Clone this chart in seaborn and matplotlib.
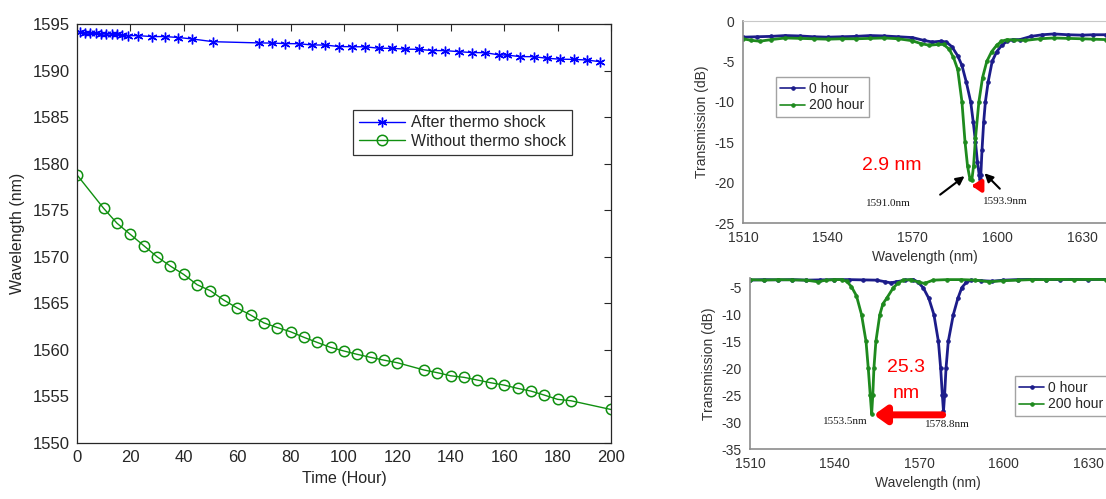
import matplotlib
matplotlib.use("Agg")
import matplotlib.pyplot as plt
import seaborn as sns

# ---- left panel: peak wavelength vs time ----
hours_after = [1, 3, 5, 7, 9, 11, 13, 15, 17, 19, 23, 28, 33, 38, 43, 51,
               68, 73, 78, 83, 88, 93, 98, 103, 108, 113, 118, 123, 128, 133,
               138, 143, 148, 153, 158, 161, 166, 171, 176, 181, 186, 191, 196]
wl_after = [1594.1, 1594.05, 1594.0, 1594.0, 1593.95, 1593.95, 1593.9, 1593.9, 1593.8, 1593.75,
            1593.75, 1593.65, 1593.65, 1593.55, 1593.4, 1593.1,
            1592.97, 1592.95, 1592.9, 1592.88, 1592.75, 1592.74, 1592.58, 1592.56, 1592.55,
            1592.4, 1592.39, 1592.3, 1592.28, 1592.15, 1592.14, 1592.03, 1591.93, 1591.92,
            1591.68, 1591.66, 1591.5, 1591.49, 1591.32, 1591.22, 1591.2, 1591.13, 1590.95]

hours_without = [0, 10, 15, 20, 25, 30, 35, 40, 45, 50, 55, 60, 65, 70, 75, 80, 85, 90,
                 95, 100, 105, 110, 115, 120, 130, 135, 140, 145, 150, 155, 160, 165,
                 170, 175, 180, 185, 200]
wl_without = [1578.8, 1575.2, 1573.6, 1572.4, 1571.2, 1570.0, 1569.0, 1568.1, 1567.0,
              1566.35, 1565.35, 1564.5, 1563.75, 1562.9, 1562.4, 1561.95, 1561.35, 1560.8,
              1560.27, 1559.88, 1559.52, 1559.2, 1558.9, 1558.62, 1557.84, 1557.55, 1557.22,
              1557.05, 1556.76, 1556.47, 1556.22, 1555.87, 1555.58, 1555.15, 1554.69,
              1554.54, 1553.6]

# ---- top right spectra ----
top_wl_0h = [1510, 1515, 1520, 1525, 1530, 1535, 1540, 1545, 1550, 1555, 1560, 1565, 1570,
             1574, 1577, 1580, 1582, 1584, 1586, 1587.5, 1589, 1590.6, 1591.5, 1592.3, 1593,
             1593.6, 1593.9, 1594.2, 1594.6, 1595.2, 1595.8, 1596.8, 1598.2, 1599.8, 1601.6,
             1603.5, 1605.5, 1608, 1612, 1616, 1620, 1625, 1630, 1634, 1638.5]
top_tr_0h = [-2.0, -1.95, -1.9, -1.8, -1.85, -1.95, -2.0, -1.95, -1.9, -1.8, -1.85, -1.95, -2.05,
             -2.4, -2.6, -2.5, -2.6, -3.2, -4.3, -5.5, -7.5, -10.0, -12.5, -15.0, -17.5,
             -19.0, -19.5, -19.0, -16.0, -12.5, -10.0, -7.5, -5.0, -3.8, -3.0,
             -2.5, -2.3, -2.3, -1.9, -1.7, -1.6, -1.7, -1.75, -1.7, -1.7]
top_wl_200h = [1510, 1513, 1516, 1520, 1525, 1530, 1535, 1540, 1545, 1550, 1555, 1560, 1565,
               1570, 1573, 1576, 1579, 1581, 1583, 1584.5, 1586, 1587.5, 1588.6, 1589.5, 1590.3,
               1591.0, 1591.6, 1592.3, 1593.5, 1594.8, 1596.3, 1598, 1599.8, 1601.5, 1603.5,
               1606, 1610, 1615, 1620, 1625, 1630, 1634, 1638.5]
top_tr_200h = [-2.2, -2.4, -2.5, -2.3, -2.1, -2.15, -2.2, -2.25, -2.2, -2.2, -2.15, -2.1, -2.2,
               -2.45, -2.8, -3.0, -2.9, -2.9, -3.5, -4.5, -6.0, -10.0, -15.0, -18.0, -19.5,
               -19.7, -18.0, -14.5, -10.0, -7.0, -5.0, -3.8, -3.0, -2.5, -2.3,
               -2.35, -2.4, -2.2, -2.1, -2.15, -2.2, -2.25, -2.3]

# ---- bottom right spectra ----
bot_wl_0h = [1510, 1515, 1520, 1525, 1530, 1535, 1540, 1545, 1550, 1555, 1558, 1560, 1562,
             1565, 1568, 1569.5, 1571.5, 1573.5, 1575.3, 1576.9, 1577.7, 1578.3, 1578.7,
             1579.1, 1579.6, 1580.4, 1582.2, 1583.8, 1585.2, 1586.8, 1588.5, 1592, 1596,
             1600, 1605, 1610, 1615, 1620, 1625, 1630, 1636.5]
bot_tr_0h = [-3.6, -3.5, -3.55, -3.5, -3.6, -3.55, -3.5, -3.5, -3.55, -3.6, -3.9, -4.1, -3.9,
             -3.6, -3.5, -3.9, -5.0, -7.0, -10.0, -15.0, -20.0, -25.0, -28.0,
             -25.0, -20.0, -15.0, -10.0, -7.0, -5.0, -4.0, -3.6, -3.7, -3.8,
             -3.6, -3.5, -3.45, -3.5, -3.5, -3.45, -3.5, -3.45]
bot_wl_200h = [1510, 1515, 1520, 1525, 1530, 1534, 1537, 1540, 1542.5, 1544.3, 1546, 1547.8,
               1549.6, 1551.2, 1552.0, 1552.7, 1553.2, 1553.6, 1554.0, 1554.7, 1556.1, 1557.2,
               1558.5, 1560.9, 1562.5, 1564.3, 1567, 1570, 1572, 1575, 1580, 1585, 1590,
               1595, 1600, 1605, 1610, 1615, 1620, 1625, 1630, 1636.5]
bot_tr_200h = [-3.5, -3.6, -3.5, -3.55, -3.6, -3.9, -3.6, -3.5, -3.5, -3.8, -4.8, -6.5,
               -10.0, -15.0, -20.0, -25.0, -28.5, -25.0, -20.0, -15.0, -10.0, -8.0,
               -7.0, -5.0, -4.2, -3.6, -3.5, -4.0, -4.2, -3.6, -3.5, -3.5, -3.6,
               -3.9, -3.7, -3.6, -3.5, -3.5, -3.45, -3.5, -3.45, -3.5]

sns.set_style("white")
plt.rcParams['font.family'] = ['Liberation Sans', 'DejaVu Sans']
plt.rcParams['axes.unicode_minus'] = False

fig = plt.figure(figsize=(11.06, 4.99), dpi=100)

# ================= left panel (MATLAB look) =================
ax = fig.add_axes([0.0696, 0.1122, 0.4828, 0.8397])
sns.lineplot(x=hours_after, y=wl_after, ax=ax, color="#0000ff", lw=1.0,
             marker=(6, 2, 0), markersize=7, markeredgewidth=1.0,
             markeredgecolor="#0000ff", label="After thermo shock")
sns.lineplot(x=hours_without, y=wl_without, ax=ax, color="#109010", lw=1.0,
             marker="o", markersize=7.5, markeredgewidth=1.1,
             markeredgecolor="#109010", label="Without thermo shock")
ax.lines[-1].set_markerfacecolor("none")
ax.set_xlim(0, 200)
ax.set_ylim(1550, 1595)
ax.set_xticks(range(0, 201, 20))
ax.set_yticks(range(1550, 1596, 5))
ax.tick_params(direction="in", top=True, right=True, length=5, width=0.8,
               labelsize=12, colors="#262626", pad=5)
for s in ax.spines.values():
    s.set_color("#262626")
    s.set_linewidth(0.9)
ax.set_xlabel("Time (Hour)", fontsize=11.5, color="#262626", labelpad=4)
ax.set_ylabel("Wavelength (nm)", fontsize=11.5, color="#262626", labelpad=6)
leg = ax.legend(loc="upper left", bbox_to_anchor=(0.502, 0.815), fontsize=11.5,
                frameon=True, fancybox=False, handlelength=2.9, borderpad=0.35,
                labelspacing=0.25, handletextpad=0.4)
leg.get_frame().set_edgecolor("#000000")
leg.get_frame().set_linewidth(0.9)


def excel_axes(a):
    a.spines["right"].set_visible(False)
    a.spines["top"].set_color("#c8c8c8")
    a.spines["top"].set_linewidth(0.8)
    for name in ["left", "bottom"]:
        a.spines[name].set_color("#8c8c8c")
        a.spines[name].set_linewidth(1.2)
    a.tick_params(direction="out", length=4, width=1, colors="#8c8c8c",
                  labelcolor="#333333", labelsize=10, pad=2)
    a.set_xticks([1510, 1540, 1570, 1600, 1630])


navy = "#1c1c8a"
green = "#1e8a1e"
serif = ["Liberation Serif", "DejaVu Serif"]

# ================= top right =================
ax1 = fig.add_axes([0.6718, 0.5531, 0.3282, 0.4048])
sns.lineplot(x=top_wl_0h, y=top_tr_0h, ax=ax1, color=navy, lw=2.0, marker="o",
             markersize=2.5, markeredgecolor=navy, label="0 hour")
sns.lineplot(x=top_wl_200h, y=top_tr_200h, ax=ax1, color=green, lw=2.0, marker="o",
             markersize=2.5, markeredgecolor=green, label="200 hour")
ax1.set_xlim(1510, 1638.5)
ax1.set_ylim(-25, 0)
ax1.set_yticks(range(-25, 1, 5))
excel_axes(ax1)
ax1.set_xlabel("Wavelength (nm)", fontsize=10, color="#333333", labelpad=3)
ax1.set_ylabel("Transmission (dB)", fontsize=10, color="#333333", labelpad=4)
lg1 = ax1.legend(loc="upper left", bbox_to_anchor=(0.072, 0.755), fontsize=10,
                 fancybox=False, handlelength=1.8, borderpad=0.3, labelspacing=0.2,
                 handletextpad=0.3)
lg1.get_frame().set_edgecolor("#8c8c8c")
for ln in lg1.get_lines():
    ln.set_linewidth(1.2)
ax1.text(1562.5, -17.9, "2.9 nm", color="red", fontsize=14, ha="center", va="center")
ax1.annotate("", xy=(1590.0, -20.4), xytext=(1594.3, -20.4),
             arrowprops=dict(arrowstyle="-|>,head_width=0.35,head_length=0.5",
                             color="red", lw=3))
ax1.annotate("", xy=(1589.2, -19.0), xytext=(1579.0, -21.7),
             arrowprops=dict(arrowstyle="-|>,head_width=0.25,head_length=0.5",
                             color="black", lw=1.5))
ax1.annotate("", xy=(1594.8, -18.6), xytext=(1601.6, -21.0),
             arrowprops=dict(arrowstyle="-|>,head_width=0.25,head_length=0.5",
                             color="black", lw=1.5))
ax1.text(1561.3, -22.6, "1591.0nm", fontsize=8, family=serif,
         ha="center", va="center", color="#1a1a1a")
ax1.text(1602.7, -22.4, "1593.9nm", fontsize=8, family=serif,
         ha="center", va="center", color="#1a1a1a")

# ================= bottom right =================
ax2 = fig.add_axes([0.6781, 0.1002, 0.3219, 0.3427])
sns.lineplot(x=bot_wl_0h, y=bot_tr_0h, ax=ax2, color=navy, lw=2.0, marker="o",
             markersize=2.5, markeredgecolor=navy, label="0 hour")
sns.lineplot(x=bot_wl_200h, y=bot_tr_200h, ax=ax2, color=green, lw=2.0, marker="o",
             markersize=2.5, markeredgecolor=green, label="200 hour")
ax2.set_xlim(1510, 1636.4)
ax2.set_ylim(-35, -3.2)
ax2.set_yticks(range(-35, -4, 5))
excel_axes(ax2)
ax2.spines["top"].set_visible(False)
ax2.set_xlabel("Wavelength (nm)", fontsize=10, color="#333333", labelpad=3)
ax2.set_ylabel("Transmission (dB)", fontsize=10, color="#333333", labelpad=4)
lg2 = ax2.legend(loc="upper left", bbox_to_anchor=(0.725, 0.465), fontsize=10,
                 fancybox=False, handlelength=1.8, borderpad=0.3, labelspacing=0.2,
                 handletextpad=0.3)
lg2.get_frame().set_edgecolor("#8c8c8c")
for ln in lg2.get_lines():
    ln.set_linewidth(1.2)
ax2.text(1565.4, -19.9, "25.3", color="red", fontsize=14, ha="center", va="center")
ax2.text(1565.4, -24.7, "nm", color="red", fontsize=14, ha="center", va="center")
ax2.annotate("", xy=(1553.0, -28.65), xytext=(1579.4, -28.65),
             arrowprops=dict(arrowstyle="-|>,head_width=0.5,head_length=0.7",
                             color="red", lw=5))
ax2.text(1543.7, -29.8, "1553.5nm", fontsize=8, family=serif,
         ha="center", va="center", color="#1a1a1a")
ax2.text(1580.2, -30.5, "1578.8nm", fontsize=8, family=serif,
         ha="center", va="center", color="#1a1a1a")

fig.savefig("out.png", dpi=100)
